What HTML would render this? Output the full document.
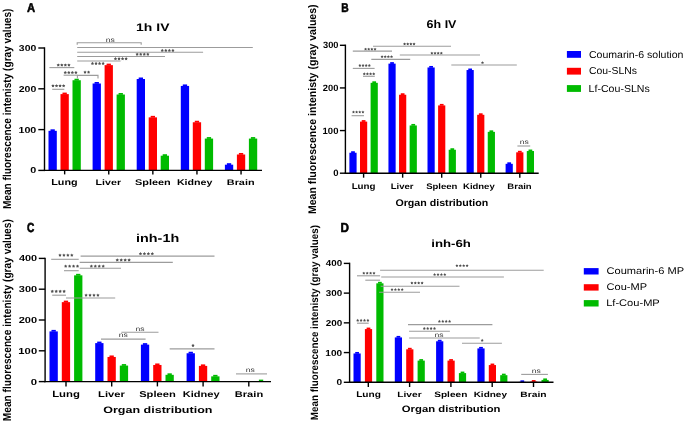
<!DOCTYPE html>
<html><head><meta charset="utf-8"><style>
html,body{margin:0;padding:0;background:#fff;}
body{width:685px;height:423px;overflow:hidden;}
svg{display:block;font-family:"Liberation Sans", sans-serif;filter:blur(0.35px);}
</style></head><body>
<svg width="685" height="423" viewBox="0 0 685 423">
<rect width="685" height="423" fill="#fff"/>
<rect x="48.50" y="130.82" width="8.30" height="39.58" fill="#0000ff"/>
<rect x="50.49" y="129.32" width="4.32" height="1.8" fill="#0000ff"/>
<rect x="60.50" y="94.10" width="8.30" height="76.30" fill="#ff0000"/>
<rect x="62.49" y="92.60" width="4.32" height="1.8" fill="#ff0000"/>
<rect x="72.50" y="80.23" width="8.30" height="90.17" fill="#00bb00"/>
<rect x="74.49" y="78.73" width="4.32" height="1.8" fill="#00bb00"/>
<rect x="92.60" y="83.50" width="8.30" height="86.90" fill="#0000ff"/>
<rect x="94.59" y="82.00" width="4.32" height="1.8" fill="#0000ff"/>
<rect x="104.60" y="65.14" width="8.30" height="105.26" fill="#ff0000"/>
<rect x="106.59" y="63.64" width="4.32" height="1.8" fill="#ff0000"/>
<rect x="116.60" y="94.51" width="8.30" height="75.89" fill="#00bb00"/>
<rect x="118.59" y="93.01" width="4.32" height="1.8" fill="#00bb00"/>
<rect x="136.70" y="79.01" width="8.30" height="91.39" fill="#0000ff"/>
<rect x="138.69" y="77.51" width="4.32" height="1.8" fill="#0000ff"/>
<rect x="148.70" y="117.36" width="8.30" height="53.04" fill="#ff0000"/>
<rect x="150.69" y="115.86" width="4.32" height="1.8" fill="#ff0000"/>
<rect x="160.70" y="155.71" width="8.30" height="14.69" fill="#00bb00"/>
<rect x="162.69" y="154.21" width="4.32" height="1.8" fill="#00bb00"/>
<rect x="180.80" y="85.94" width="8.30" height="84.46" fill="#0000ff"/>
<rect x="182.79" y="84.44" width="4.32" height="1.8" fill="#0000ff"/>
<rect x="192.80" y="122.26" width="8.30" height="48.14" fill="#ff0000"/>
<rect x="194.79" y="120.76" width="4.32" height="1.8" fill="#ff0000"/>
<rect x="204.80" y="138.58" width="8.30" height="31.82" fill="#00bb00"/>
<rect x="206.79" y="137.08" width="4.32" height="1.8" fill="#00bb00"/>
<rect x="224.90" y="164.69" width="8.30" height="5.71" fill="#0000ff"/>
<rect x="226.89" y="163.19" width="4.32" height="1.8" fill="#0000ff"/>
<rect x="236.90" y="154.49" width="8.30" height="15.91" fill="#ff0000"/>
<rect x="238.89" y="152.99" width="4.32" height="1.8" fill="#ff0000"/>
<rect x="248.90" y="138.58" width="8.30" height="31.82" fill="#00bb00"/>
<rect x="250.89" y="137.08" width="4.32" height="1.8" fill="#00bb00"/>
<line x1="44.50" y1="47.30" x2="44.50" y2="171.10" stroke="#000" stroke-width="1.4"/>
<line x1="43.80" y1="170.40" x2="262.00" y2="170.40" stroke="#000" stroke-width="1.4"/>
<line x1="38.30" y1="170.40" x2="44.50" y2="170.40" stroke="#000" stroke-width="1.4"/>
<line x1="38.30" y1="129.60" x2="44.50" y2="129.60" stroke="#000" stroke-width="1.4"/>
<line x1="38.30" y1="88.80" x2="44.50" y2="88.80" stroke="#000" stroke-width="1.4"/>
<line x1="38.30" y1="48.00" x2="44.50" y2="48.00" stroke="#000" stroke-width="1.4"/>
<line x1="64.65" y1="170.40" x2="64.65" y2="174.40" stroke="#000" stroke-width="1.4"/>
<line x1="108.75" y1="170.40" x2="108.75" y2="174.40" stroke="#000" stroke-width="1.4"/>
<line x1="152.85" y1="170.40" x2="152.85" y2="174.40" stroke="#000" stroke-width="1.4"/>
<line x1="196.95" y1="170.40" x2="196.95" y2="174.40" stroke="#000" stroke-width="1.4"/>
<line x1="241.05" y1="170.40" x2="241.05" y2="174.40" stroke="#000" stroke-width="1.4"/>
<polyline points="77.20,44.70 77.20,42.70 141.20,42.70 141.20,44.70" fill="none" stroke="#9c9c9c" stroke-width="1.1"/>
<line x1="77.20" y1="47.50" x2="252.80" y2="47.50" stroke="#9c9c9c" stroke-width="1.1"/>
<polygon points="162.28,48.80 162.85,49.71 163.89,49.97 163.20,50.80 163.27,51.88 162.28,51.47 161.28,51.88 161.35,50.80 160.66,49.97 161.70,49.71" fill="#505050"/>
<polygon points="165.82,48.80 166.40,49.71 167.44,49.97 166.75,50.80 166.82,51.88 165.82,51.47 164.83,51.88 164.90,50.80 164.21,49.97 165.25,49.71" fill="#505050"/>
<polygon points="169.38,48.80 169.95,49.71 170.99,49.97 170.30,50.80 170.37,51.88 169.38,51.47 168.38,51.88 168.45,50.80 167.76,49.97 168.80,49.71" fill="#505050"/>
<polygon points="172.92,48.80 173.50,49.71 174.54,49.97 173.85,50.80 173.92,51.88 172.92,51.47 171.93,51.88 172.00,50.80 171.31,49.97 172.35,49.71" fill="#505050"/>
<line x1="77.20" y1="52.20" x2="203.10" y2="52.20" stroke="#9c9c9c" stroke-width="1.1"/>
<polygon points="137.18,52.70 137.75,53.61 138.79,53.87 138.10,54.70 138.17,55.78 137.18,55.37 136.18,55.78 136.25,54.70 135.56,53.87 136.60,53.61" fill="#505050"/>
<polygon points="140.72,52.70 141.30,53.61 142.34,53.87 141.65,54.70 141.72,55.78 140.72,55.37 139.73,55.78 139.80,54.70 139.11,53.87 140.15,53.61" fill="#505050"/>
<polygon points="144.28,52.70 144.85,53.61 145.89,53.87 145.20,54.70 145.27,55.78 144.28,55.37 143.28,55.78 143.35,54.70 142.66,53.87 143.70,53.61" fill="#505050"/>
<polygon points="147.82,52.70 148.40,53.61 149.44,53.87 148.75,54.70 148.82,55.78 147.82,55.37 146.83,55.78 146.90,54.70 146.21,53.87 147.25,53.61" fill="#505050"/>
<line x1="77.20" y1="56.50" x2="165.00" y2="56.50" stroke="#9c9c9c" stroke-width="1.1"/>
<polygon points="115.47,57.10 116.05,58.01 117.09,58.27 116.40,59.10 116.47,60.18 115.47,59.77 114.48,60.18 114.55,59.10 113.86,58.27 114.90,58.01" fill="#505050"/>
<polygon points="119.02,57.10 119.60,58.01 120.64,58.27 119.95,59.10 120.02,60.18 119.02,59.77 118.03,60.18 118.10,59.10 117.41,58.27 118.45,58.01" fill="#505050"/>
<polygon points="122.58,57.10 123.15,58.01 124.19,58.27 123.50,59.10 123.57,60.18 122.58,59.77 121.58,60.18 121.65,59.10 120.96,58.27 122.00,58.01" fill="#505050"/>
<polygon points="126.12,57.10 126.70,58.01 127.74,58.27 127.05,59.10 127.12,60.18 126.12,59.77 125.13,60.18 125.20,59.10 124.51,58.27 125.55,58.01" fill="#505050"/>
<line x1="77.20" y1="61.00" x2="120.60" y2="61.00" stroke="#9c9c9c" stroke-width="1.1"/>
<polygon points="92.47,61.80 93.05,62.71 94.09,62.97 93.40,63.80 93.47,64.88 92.47,64.47 91.48,64.88 91.55,63.80 90.86,62.97 91.90,62.71" fill="#505050"/>
<polygon points="96.02,61.80 96.60,62.71 97.64,62.97 96.95,63.80 97.02,64.88 96.02,64.47 95.03,64.88 95.10,63.80 94.41,62.97 95.45,62.71" fill="#505050"/>
<polygon points="99.58,61.80 100.15,62.71 101.19,62.97 100.50,63.80 100.57,64.88 99.58,64.47 98.58,64.88 98.65,63.80 97.96,62.97 99.00,62.71" fill="#505050"/>
<polygon points="103.12,61.80 103.70,62.71 104.74,62.97 104.05,63.80 104.12,64.88 103.12,64.47 102.13,64.88 102.20,63.80 101.51,62.97 102.55,62.71" fill="#505050"/>
<line x1="49.40" y1="67.60" x2="74.30" y2="67.60" stroke="#9c9c9c" stroke-width="1.1"/>
<polygon points="58.28,63.40 58.85,64.31 59.89,64.57 59.20,65.40 59.27,66.48 58.28,66.07 57.28,66.48 57.35,65.40 56.66,64.57 57.70,64.31" fill="#505050"/>
<polygon points="61.83,63.40 62.40,64.31 63.44,64.57 62.75,65.40 62.82,66.48 61.83,66.07 60.83,66.48 60.90,65.40 60.21,64.57 61.25,64.31" fill="#505050"/>
<polygon points="65.38,63.40 65.95,64.31 66.99,64.57 66.30,65.40 66.37,66.48 65.38,66.07 64.38,66.48 64.45,65.40 63.76,64.57 64.80,64.31" fill="#505050"/>
<polygon points="68.92,63.40 69.50,64.31 70.54,64.57 69.85,65.40 69.92,66.48 68.92,66.07 67.93,66.48 68.00,65.40 67.31,64.57 68.35,64.31" fill="#505050"/>
<line x1="63.60" y1="75.20" x2="77.40" y2="75.20" stroke="#9c9c9c" stroke-width="1.1"/>
<polygon points="65.27,70.90 65.85,71.81 66.89,72.07 66.20,72.90 66.27,73.98 65.27,73.57 64.28,73.98 64.35,72.90 63.66,72.07 64.70,71.81" fill="#505050"/>
<polygon points="68.82,70.90 69.40,71.81 70.44,72.07 69.75,72.90 69.82,73.98 68.82,73.57 67.83,73.98 67.90,72.90 67.21,72.07 68.25,71.81" fill="#505050"/>
<polygon points="72.38,70.90 72.95,71.81 73.99,72.07 73.30,72.90 73.37,73.98 72.38,73.57 71.38,73.98 71.45,72.90 70.76,72.07 71.80,71.81" fill="#505050"/>
<polygon points="75.92,70.90 76.50,71.81 77.54,72.07 76.85,72.90 76.92,73.98 75.92,73.57 74.93,73.98 75.00,72.90 74.31,72.07 75.35,71.81" fill="#505050"/>
<polyline points="77.40,78.40 77.40,75.40 98.00,75.40 98.00,78.40" fill="none" stroke="#9c9c9c" stroke-width="1.1"/>
<polygon points="85.02,70.50 85.60,71.41 86.64,71.67 85.95,72.50 86.02,73.58 85.02,73.17 84.03,73.58 84.10,72.50 83.41,71.67 84.45,71.41" fill="#505050"/>
<polygon points="88.58,70.50 89.15,71.41 90.19,71.67 89.50,72.50 89.57,73.58 88.58,73.17 87.58,73.58 87.65,72.50 86.96,71.67 88.00,71.41" fill="#505050"/>
<line x1="52.20" y1="89.30" x2="64.30" y2="89.30" stroke="#9c9c9c" stroke-width="1.1"/>
<polygon points="52.97,84.20 53.55,85.11 54.59,85.37 53.90,86.20 53.97,87.28 52.97,86.87 51.98,87.28 52.05,86.20 51.36,85.37 52.40,85.11" fill="#505050"/>
<polygon points="56.52,84.20 57.10,85.11 58.14,85.37 57.45,86.20 57.52,87.28 56.52,86.87 55.53,87.28 55.60,86.20 54.91,85.37 55.95,85.11" fill="#505050"/>
<polygon points="60.07,84.20 60.65,85.11 61.69,85.37 61.00,86.20 61.07,87.28 60.07,86.87 59.08,87.28 59.15,86.20 58.46,85.37 59.50,85.11" fill="#505050"/>
<polygon points="63.62,84.20 64.20,85.11 65.24,85.37 64.55,86.20 64.62,87.28 63.62,86.87 62.63,87.28 62.70,86.20 62.01,85.37 63.05,85.11" fill="#505050"/>
<rect x="349.40" y="152.74" width="7.20" height="20.46" fill="#0000ff"/>
<rect x="351.13" y="151.24" width="3.74" height="1.8" fill="#0000ff"/>
<rect x="360.00" y="121.61" width="7.20" height="51.59" fill="#ff0000"/>
<rect x="361.73" y="120.11" width="3.74" height="1.8" fill="#ff0000"/>
<rect x="370.60" y="82.82" width="7.20" height="90.38" fill="#00bb00"/>
<rect x="372.33" y="81.32" width="3.74" height="1.8" fill="#00bb00"/>
<rect x="388.45" y="63.63" width="7.20" height="109.57" fill="#0000ff"/>
<rect x="390.18" y="62.13" width="3.74" height="1.8" fill="#0000ff"/>
<rect x="399.05" y="94.75" width="7.20" height="78.45" fill="#ff0000"/>
<rect x="400.78" y="93.25" width="3.74" height="1.8" fill="#ff0000"/>
<rect x="409.65" y="125.45" width="7.20" height="47.75" fill="#00bb00"/>
<rect x="411.38" y="123.95" width="3.74" height="1.8" fill="#00bb00"/>
<rect x="427.50" y="67.47" width="7.20" height="105.73" fill="#0000ff"/>
<rect x="429.23" y="65.97" width="3.74" height="1.8" fill="#0000ff"/>
<rect x="438.10" y="105.41" width="7.20" height="67.79" fill="#ff0000"/>
<rect x="439.83" y="103.91" width="3.74" height="1.8" fill="#ff0000"/>
<rect x="448.70" y="149.75" width="7.20" height="23.45" fill="#00bb00"/>
<rect x="450.43" y="148.25" width="3.74" height="1.8" fill="#00bb00"/>
<rect x="466.55" y="70.03" width="7.20" height="103.17" fill="#0000ff"/>
<rect x="468.28" y="68.53" width="3.74" height="1.8" fill="#0000ff"/>
<rect x="477.15" y="114.79" width="7.20" height="58.41" fill="#ff0000"/>
<rect x="478.88" y="113.29" width="3.74" height="1.8" fill="#ff0000"/>
<rect x="487.75" y="131.85" width="7.20" height="41.35" fill="#00bb00"/>
<rect x="489.48" y="130.35" width="3.74" height="1.8" fill="#00bb00"/>
<rect x="505.60" y="163.82" width="7.20" height="9.38" fill="#0000ff"/>
<rect x="507.33" y="162.32" width="3.74" height="1.8" fill="#0000ff"/>
<rect x="516.20" y="152.31" width="7.20" height="20.89" fill="#ff0000"/>
<rect x="517.93" y="150.81" width="3.74" height="1.8" fill="#ff0000"/>
<rect x="526.80" y="151.03" width="7.20" height="22.17" fill="#00bb00"/>
<rect x="528.53" y="149.53" width="3.74" height="1.8" fill="#00bb00"/>
<line x1="345.40" y1="44.60" x2="345.40" y2="173.90" stroke="#000" stroke-width="1.4"/>
<line x1="344.70" y1="173.20" x2="538.70" y2="173.20" stroke="#000" stroke-width="1.4"/>
<line x1="339.90" y1="173.20" x2="345.40" y2="173.20" stroke="#000" stroke-width="1.4"/>
<line x1="339.90" y1="130.57" x2="345.40" y2="130.57" stroke="#000" stroke-width="1.4"/>
<line x1="339.90" y1="87.93" x2="345.40" y2="87.93" stroke="#000" stroke-width="1.4"/>
<line x1="339.90" y1="45.30" x2="345.40" y2="45.30" stroke="#000" stroke-width="1.4"/>
<line x1="363.60" y1="173.20" x2="363.60" y2="177.70" stroke="#000" stroke-width="1.4"/>
<line x1="402.65" y1="173.20" x2="402.65" y2="177.70" stroke="#000" stroke-width="1.4"/>
<line x1="441.70" y1="173.20" x2="441.70" y2="177.70" stroke="#000" stroke-width="1.4"/>
<line x1="480.75" y1="173.20" x2="480.75" y2="177.70" stroke="#000" stroke-width="1.4"/>
<line x1="519.80" y1="173.20" x2="519.80" y2="177.70" stroke="#000" stroke-width="1.4"/>
<line x1="352.80" y1="51.10" x2="392.00" y2="51.10" stroke="#9c9c9c" stroke-width="1.1"/>
<polygon points="365.57,47.65 366.10,48.48 367.05,48.72 366.42,49.47 366.49,50.45 365.57,50.09 364.66,50.45 364.73,49.47 364.10,48.72 365.05,48.48" fill="#505050"/>
<polygon points="368.73,47.65 369.25,48.48 370.20,48.72 369.57,49.47 369.64,50.45 368.73,50.09 367.81,50.45 367.88,49.47 367.25,48.72 368.20,48.48" fill="#505050"/>
<polygon points="371.88,47.65 372.40,48.48 373.35,48.72 372.72,49.47 372.79,50.45 371.88,50.09 370.96,50.45 371.03,49.47 370.40,48.72 371.35,48.48" fill="#505050"/>
<polygon points="375.03,47.65 375.55,48.48 376.50,48.72 375.87,49.47 375.94,50.45 375.03,50.09 374.11,50.45 374.18,49.47 373.55,48.72 374.50,48.48" fill="#505050"/>
<line x1="373.00" y1="46.30" x2="451.00" y2="46.30" stroke="#9c9c9c" stroke-width="1.1"/>
<polygon points="404.57,42.45 405.10,43.28 406.05,43.52 405.42,44.27 405.49,45.25 404.57,44.89 403.66,45.25 403.73,44.27 403.10,43.52 404.05,43.28" fill="#505050"/>
<polygon points="407.73,42.45 408.25,43.28 409.20,43.52 408.57,44.27 408.64,45.25 407.73,44.89 406.81,45.25 406.88,44.27 406.25,43.52 407.20,43.28" fill="#505050"/>
<polygon points="410.88,42.45 411.40,43.28 412.35,43.52 411.72,44.27 411.79,45.25 410.88,44.89 409.96,45.25 410.03,44.27 409.40,43.52 410.35,43.28" fill="#505050"/>
<polygon points="414.03,42.45 414.55,43.28 415.50,43.52 414.87,44.27 414.94,45.25 414.03,44.89 413.11,45.25 413.18,44.27 412.55,43.52 413.50,43.28" fill="#505050"/>
<line x1="399.80" y1="55.00" x2="480.00" y2="55.00" stroke="#9c9c9c" stroke-width="1.1"/>
<polygon points="431.88,51.65 432.40,52.48 433.35,52.72 432.72,53.47 432.79,54.45 431.88,54.09 430.96,54.45 431.03,53.47 430.40,52.72 431.35,52.48" fill="#505050"/>
<polygon points="435.03,51.65 435.55,52.48 436.50,52.72 435.87,53.47 435.94,54.45 435.03,54.09 434.11,54.45 434.18,53.47 433.55,52.72 434.50,52.48" fill="#505050"/>
<polygon points="438.18,51.65 438.70,52.48 439.65,52.72 439.02,53.47 439.09,54.45 438.18,54.09 437.26,54.45 437.33,53.47 436.70,52.72 437.65,52.48" fill="#505050"/>
<polygon points="441.33,51.65 441.85,52.48 442.80,52.72 442.17,53.47 442.24,54.45 441.33,54.09 440.41,54.45 440.48,53.47 439.85,52.72 440.80,52.48" fill="#505050"/>
<line x1="371.30" y1="59.40" x2="410.20" y2="59.40" stroke="#9c9c9c" stroke-width="1.1"/>
<polygon points="382.07,55.15 382.60,55.98 383.55,56.22 382.92,56.97 382.99,57.95 382.07,57.59 381.16,57.95 381.23,56.97 380.60,56.22 381.55,55.98" fill="#505050"/>
<polygon points="385.23,55.15 385.75,55.98 386.70,56.22 386.07,56.97 386.14,57.95 385.23,57.59 384.31,57.95 384.38,56.97 383.75,56.22 384.70,55.98" fill="#505050"/>
<polygon points="388.38,55.15 388.90,55.98 389.85,56.22 389.22,56.97 389.29,57.95 388.38,57.59 387.46,57.95 387.53,56.97 386.90,56.22 387.85,55.98" fill="#505050"/>
<polygon points="391.53,55.15 392.05,55.98 393.00,56.22 392.37,56.97 392.44,57.95 391.53,57.59 390.61,57.95 390.68,56.97 390.05,56.22 391.00,55.98" fill="#505050"/>
<line x1="451.30" y1="65.00" x2="516.80" y2="65.00" stroke="#9c9c9c" stroke-width="1.1"/>
<polygon points="482.50,61.15 483.02,61.98 483.97,62.22 483.34,62.97 483.41,63.95 482.50,63.59 481.59,63.95 481.66,62.97 481.03,62.22 481.98,61.98" fill="#505050"/>
<line x1="352.80" y1="68.40" x2="374.60" y2="68.40" stroke="#9c9c9c" stroke-width="1.1"/>
<polygon points="359.88,63.95 360.40,64.78 361.35,65.02 360.72,65.77 360.79,66.75 359.88,66.39 358.96,66.75 359.03,65.77 358.40,65.02 359.35,64.78" fill="#505050"/>
<polygon points="363.03,63.95 363.55,64.78 364.50,65.02 363.87,65.77 363.94,66.75 363.03,66.39 362.11,66.75 362.18,65.77 361.55,65.02 362.50,64.78" fill="#505050"/>
<polygon points="366.18,63.95 366.70,64.78 367.65,65.02 367.02,65.77 367.09,66.75 366.18,66.39 365.26,66.75 365.33,65.77 364.70,65.02 365.65,64.78" fill="#505050"/>
<polygon points="369.33,63.95 369.85,64.78 370.80,65.02 370.17,65.77 370.24,66.75 369.33,66.39 368.41,66.75 368.48,65.77 367.85,65.02 368.80,64.78" fill="#505050"/>
<line x1="363.00" y1="76.30" x2="374.80" y2="76.30" stroke="#9c9c9c" stroke-width="1.1"/>
<polygon points="364.27,72.35 364.80,73.18 365.75,73.42 365.12,74.17 365.19,75.15 364.27,74.79 363.36,75.15 363.43,74.17 362.80,73.42 363.75,73.18" fill="#505050"/>
<polygon points="367.43,72.35 367.95,73.18 368.90,73.42 368.27,74.17 368.34,75.15 367.43,74.79 366.51,75.15 366.58,74.17 365.95,73.42 366.90,73.18" fill="#505050"/>
<polygon points="370.57,72.35 371.10,73.18 372.05,73.42 371.42,74.17 371.49,75.15 370.57,74.79 369.66,75.15 369.73,74.17 369.10,73.42 370.05,73.18" fill="#505050"/>
<polygon points="373.73,72.35 374.25,73.18 375.20,73.42 374.57,74.17 374.64,75.15 373.73,74.79 372.81,75.15 372.88,74.17 372.25,73.42 373.20,73.18" fill="#505050"/>
<line x1="351.60" y1="115.70" x2="364.00" y2="115.70" stroke="#9c9c9c" stroke-width="1.1"/>
<polygon points="353.47,110.55 354.00,111.38 354.95,111.62 354.32,112.37 354.39,113.35 353.47,112.99 352.56,113.35 352.63,112.37 352.00,111.62 352.95,111.38" fill="#505050"/>
<polygon points="356.62,110.55 357.15,111.38 358.10,111.62 357.47,112.37 357.54,113.35 356.62,112.99 355.71,113.35 355.78,112.37 355.15,111.62 356.10,111.38" fill="#505050"/>
<polygon points="359.77,110.55 360.30,111.38 361.25,111.62 360.62,112.37 360.69,113.35 359.77,112.99 358.86,113.35 358.93,112.37 358.30,111.62 359.25,111.38" fill="#505050"/>
<polygon points="362.93,110.55 363.45,111.38 364.40,111.62 363.77,112.37 363.84,113.35 362.93,112.99 362.01,113.35 362.08,112.37 361.45,111.62 362.40,111.38" fill="#505050"/>
<line x1="517.40" y1="146.00" x2="530.20" y2="146.00" stroke="#9c9c9c" stroke-width="1.1"/>
<rect x="49.50" y="331.40" width="8.30" height="50.20" fill="#0000ff"/>
<rect x="51.49" y="329.90" width="4.32" height="1.8" fill="#0000ff"/>
<rect x="61.80" y="302.14" width="8.30" height="79.46" fill="#ff0000"/>
<rect x="63.79" y="300.64" width="4.32" height="1.8" fill="#ff0000"/>
<rect x="74.10" y="275.34" width="8.30" height="106.26" fill="#00bb00"/>
<rect x="76.09" y="273.84" width="4.32" height="1.8" fill="#00bb00"/>
<rect x="95.20" y="343.10" width="8.30" height="38.50" fill="#0000ff"/>
<rect x="97.19" y="341.60" width="4.32" height="1.8" fill="#0000ff"/>
<rect x="107.50" y="356.96" width="8.30" height="24.64" fill="#ff0000"/>
<rect x="109.49" y="355.46" width="4.32" height="1.8" fill="#ff0000"/>
<rect x="119.80" y="365.58" width="8.30" height="16.02" fill="#00bb00"/>
<rect x="121.79" y="364.08" width="4.32" height="1.8" fill="#00bb00"/>
<rect x="140.90" y="344.64" width="8.30" height="36.96" fill="#0000ff"/>
<rect x="142.89" y="343.14" width="4.32" height="1.8" fill="#0000ff"/>
<rect x="153.20" y="364.97" width="8.30" height="16.63" fill="#ff0000"/>
<rect x="155.19" y="363.47" width="4.32" height="1.8" fill="#ff0000"/>
<rect x="165.50" y="374.82" width="8.30" height="6.78" fill="#00bb00"/>
<rect x="167.49" y="373.32" width="4.32" height="1.8" fill="#00bb00"/>
<rect x="186.60" y="353.26" width="8.30" height="28.34" fill="#0000ff"/>
<rect x="188.59" y="351.76" width="4.32" height="1.8" fill="#0000ff"/>
<rect x="198.90" y="365.89" width="8.30" height="15.71" fill="#ff0000"/>
<rect x="200.89" y="364.39" width="4.32" height="1.8" fill="#ff0000"/>
<rect x="211.20" y="376.36" width="8.30" height="5.24" fill="#00bb00"/>
<rect x="213.19" y="374.86" width="4.32" height="1.8" fill="#00bb00"/>
<rect x="256.90" y="381.14" width="8.30" height="0.46" fill="#00bb00"/>
<rect x="258.89" y="379.64" width="4.32" height="1.8" fill="#00bb00"/>
<line x1="45.10" y1="257.70" x2="45.10" y2="382.30" stroke="#000" stroke-width="1.4"/>
<line x1="44.40" y1="381.60" x2="271.00" y2="381.60" stroke="#000" stroke-width="1.4"/>
<line x1="38.80" y1="381.60" x2="45.10" y2="381.60" stroke="#000" stroke-width="1.4"/>
<line x1="38.80" y1="350.80" x2="45.10" y2="350.80" stroke="#000" stroke-width="1.4"/>
<line x1="38.80" y1="320.00" x2="45.10" y2="320.00" stroke="#000" stroke-width="1.4"/>
<line x1="38.80" y1="289.20" x2="45.10" y2="289.20" stroke="#000" stroke-width="1.4"/>
<line x1="38.80" y1="258.40" x2="45.10" y2="258.40" stroke="#000" stroke-width="1.4"/>
<line x1="66.00" y1="381.60" x2="66.00" y2="386.40" stroke="#000" stroke-width="1.4"/>
<line x1="111.70" y1="381.60" x2="111.70" y2="386.40" stroke="#000" stroke-width="1.4"/>
<line x1="157.40" y1="381.60" x2="157.40" y2="386.40" stroke="#000" stroke-width="1.4"/>
<line x1="203.10" y1="381.60" x2="203.10" y2="386.40" stroke="#000" stroke-width="1.4"/>
<line x1="248.80" y1="381.60" x2="248.80" y2="386.40" stroke="#000" stroke-width="1.4"/>
<line x1="80.60" y1="256.10" x2="214.50" y2="256.10" stroke="#9c9c9c" stroke-width="1.1"/>
<polygon points="140.47,251.95 141.06,252.89 142.14,253.16 141.43,254.01 141.50,255.12 140.47,254.70 139.45,255.12 139.52,254.01 138.81,253.16 139.89,252.89" fill="#505050"/>
<polygon points="144.43,251.95 145.01,252.89 146.09,253.16 145.38,254.01 145.45,255.12 144.43,254.70 143.40,255.12 143.47,254.01 142.76,253.16 143.84,252.89" fill="#505050"/>
<polygon points="148.38,251.95 148.96,252.89 150.04,253.16 149.33,254.01 149.40,255.12 148.38,254.70 147.35,255.12 147.42,254.01 146.71,253.16 147.79,252.89" fill="#505050"/>
<polygon points="152.33,251.95 152.91,252.89 153.99,253.16 153.28,254.01 153.35,255.12 152.33,254.70 151.30,255.12 151.37,254.01 150.66,253.16 151.74,252.89" fill="#505050"/>
<line x1="51.20" y1="259.30" x2="78.70" y2="259.30" stroke="#9c9c9c" stroke-width="1.1"/>
<polygon points="59.98,253.45 60.56,254.39 61.64,254.66 60.93,255.51 61.00,256.62 59.98,256.20 58.95,256.62 59.02,255.51 58.31,254.66 59.39,254.39" fill="#505050"/>
<polygon points="63.93,253.45 64.51,254.39 65.59,254.66 64.88,255.51 64.95,256.62 63.93,256.20 62.90,256.62 62.97,255.51 62.26,254.66 63.34,254.39" fill="#505050"/>
<polygon points="67.88,253.45 68.46,254.39 69.54,254.66 68.83,255.51 68.90,256.62 67.88,256.20 66.85,256.62 66.92,255.51 66.21,254.66 67.29,254.39" fill="#505050"/>
<polygon points="71.83,253.45 72.41,254.39 73.49,254.66 72.78,255.51 72.85,256.62 71.83,256.20 70.80,256.62 70.87,255.51 70.16,254.66 71.24,254.39" fill="#505050"/>
<line x1="79.70" y1="262.40" x2="172.80" y2="262.40" stroke="#9c9c9c" stroke-width="1.1"/>
<polygon points="117.28,258.35 117.86,259.29 118.94,259.56 118.23,260.41 118.30,261.52 117.28,261.10 116.25,261.52 116.32,260.41 115.61,259.56 116.69,259.29" fill="#505050"/>
<polygon points="121.23,258.35 121.81,259.29 122.89,259.56 122.18,260.41 122.25,261.52 121.23,261.10 120.20,261.52 120.27,260.41 119.56,259.56 120.64,259.29" fill="#505050"/>
<polygon points="125.17,258.35 125.76,259.29 126.84,259.56 126.13,260.41 126.20,261.52 125.17,261.10 124.15,261.52 124.22,260.41 123.51,259.56 124.59,259.29" fill="#505050"/>
<polygon points="129.12,258.35 129.71,259.29 130.79,259.56 130.08,260.41 130.15,261.52 129.12,261.10 128.10,261.52 128.17,260.41 127.46,259.56 128.54,259.29" fill="#505050"/>
<line x1="79.70" y1="268.20" x2="121.00" y2="268.20" stroke="#9c9c9c" stroke-width="1.1"/>
<polygon points="91.38,264.45 91.96,265.39 93.04,265.66 92.33,266.51 92.40,267.62 91.38,267.20 90.35,267.62 90.42,266.51 89.71,265.66 90.79,265.39" fill="#505050"/>
<polygon points="95.33,264.45 95.91,265.39 96.99,265.66 96.28,266.51 96.35,267.62 95.33,267.20 94.30,267.62 94.37,266.51 93.66,265.66 94.74,265.39" fill="#505050"/>
<polygon points="99.27,264.45 99.86,265.39 100.94,265.66 100.23,266.51 100.30,267.62 99.27,267.20 98.25,267.62 98.32,266.51 97.61,265.66 98.69,265.39" fill="#505050"/>
<polygon points="103.22,264.45 103.81,265.39 104.89,265.66 104.18,266.51 104.25,267.62 103.22,267.20 102.20,267.62 102.27,266.51 101.56,265.66 102.64,265.39" fill="#505050"/>
<line x1="64.00" y1="270.70" x2="78.70" y2="270.70" stroke="#9c9c9c" stroke-width="1.1"/>
<polygon points="65.67,264.45 66.26,265.39 67.34,265.66 66.63,266.51 66.70,267.62 65.67,267.20 64.65,267.62 64.72,266.51 64.01,265.66 65.09,265.39" fill="#505050"/>
<polygon points="69.62,264.45 70.21,265.39 71.29,265.66 70.58,266.51 70.65,267.62 69.62,267.20 68.60,267.62 68.67,266.51 67.96,265.66 69.04,265.39" fill="#505050"/>
<polygon points="73.57,264.45 74.16,265.39 75.24,265.66 74.53,266.51 74.60,267.62 73.57,267.20 72.55,267.62 72.62,266.51 71.91,265.66 72.99,265.39" fill="#505050"/>
<polygon points="77.52,264.45 78.11,265.39 79.19,265.66 78.48,266.51 78.55,267.62 77.52,267.20 76.50,267.62 76.57,266.51 75.86,265.66 76.94,265.39" fill="#505050"/>
<line x1="52.20" y1="295.20" x2="66.00" y2="295.20" stroke="#9c9c9c" stroke-width="1.1"/>
<polygon points="52.28,289.65 52.86,290.59 53.94,290.86 53.23,291.71 53.30,292.82 52.28,292.40 51.25,292.82 51.32,291.71 50.61,290.86 51.69,290.59" fill="#505050"/>
<polygon points="56.23,289.65 56.81,290.59 57.89,290.86 57.18,291.71 57.25,292.82 56.23,292.40 55.20,292.82 55.27,291.71 54.56,290.86 55.64,290.59" fill="#505050"/>
<polygon points="60.18,289.65 60.76,290.59 61.84,290.86 61.13,291.71 61.20,292.82 60.18,292.40 59.15,292.82 59.22,291.71 58.51,290.86 59.59,290.59" fill="#505050"/>
<polygon points="64.12,289.65 64.71,290.59 65.79,290.86 65.08,291.71 65.15,292.82 64.12,292.40 63.10,292.82 63.17,291.71 62.46,290.86 63.54,290.59" fill="#505050"/>
<line x1="66.00" y1="298.00" x2="115.20" y2="298.00" stroke="#9c9c9c" stroke-width="1.1"/>
<polygon points="86.08,293.45 86.66,294.39 87.74,294.66 87.03,295.51 87.10,296.62 86.08,296.20 85.05,296.62 85.12,295.51 84.41,294.66 85.49,294.39" fill="#505050"/>
<polygon points="90.03,293.45 90.61,294.39 91.69,294.66 90.98,295.51 91.05,296.62 90.03,296.20 89.00,296.62 89.07,295.51 88.36,294.66 89.44,294.39" fill="#505050"/>
<polygon points="93.97,293.45 94.56,294.39 95.64,294.66 94.93,295.51 95.00,296.62 93.97,296.20 92.95,296.62 93.02,295.51 92.31,294.66 93.39,294.39" fill="#505050"/>
<polygon points="97.92,293.45 98.51,294.39 99.59,294.66 98.88,295.51 98.95,296.62 97.92,296.20 96.90,296.62 96.97,295.51 96.26,294.66 97.34,294.39" fill="#505050"/>
<line x1="121.40" y1="332.20" x2="158.50" y2="332.20" stroke="#9c9c9c" stroke-width="1.1"/>
<line x1="101.00" y1="339.10" x2="145.60" y2="339.10" stroke="#9c9c9c" stroke-width="1.1"/>
<line x1="169.70" y1="348.90" x2="214.50" y2="348.90" stroke="#9c9c9c" stroke-width="1.1"/>
<polygon points="193.00,343.75 193.59,344.69 194.66,344.96 193.95,345.81 194.03,346.92 193.00,346.50 191.97,346.92 192.05,345.81 191.34,344.96 192.41,344.69" fill="#505050"/>
<line x1="236.00" y1="373.90" x2="267.00" y2="373.90" stroke="#9c9c9c" stroke-width="1.1"/>
<rect x="353.50" y="353.47" width="7.20" height="28.83" fill="#0000ff"/>
<rect x="355.23" y="351.97" width="3.74" height="1.8" fill="#0000ff"/>
<rect x="364.90" y="329.09" width="7.20" height="53.21" fill="#ff0000"/>
<rect x="366.63" y="327.59" width="3.74" height="1.8" fill="#ff0000"/>
<rect x="376.30" y="283.32" width="7.20" height="98.98" fill="#00bb00"/>
<rect x="378.03" y="281.82" width="3.74" height="1.8" fill="#00bb00"/>
<rect x="394.80" y="337.42" width="7.20" height="44.88" fill="#0000ff"/>
<rect x="396.53" y="335.92" width="3.74" height="1.8" fill="#0000ff"/>
<rect x="406.20" y="349.31" width="7.20" height="32.99" fill="#ff0000"/>
<rect x="407.93" y="347.81" width="3.74" height="1.8" fill="#ff0000"/>
<rect x="417.60" y="360.60" width="7.20" height="21.70" fill="#00bb00"/>
<rect x="419.33" y="359.10" width="3.74" height="1.8" fill="#00bb00"/>
<rect x="436.10" y="341.28" width="7.20" height="41.02" fill="#0000ff"/>
<rect x="437.83" y="339.78" width="3.74" height="1.8" fill="#0000ff"/>
<rect x="447.50" y="360.60" width="7.20" height="21.70" fill="#ff0000"/>
<rect x="449.23" y="359.10" width="3.74" height="1.8" fill="#ff0000"/>
<rect x="458.90" y="373.09" width="7.20" height="9.21" fill="#00bb00"/>
<rect x="460.63" y="371.59" width="3.74" height="1.8" fill="#00bb00"/>
<rect x="477.40" y="348.41" width="7.20" height="33.89" fill="#0000ff"/>
<rect x="479.13" y="346.91" width="3.74" height="1.8" fill="#0000ff"/>
<rect x="488.80" y="365.06" width="7.20" height="17.24" fill="#ff0000"/>
<rect x="490.53" y="363.56" width="3.74" height="1.8" fill="#ff0000"/>
<rect x="500.20" y="375.17" width="7.20" height="7.13" fill="#00bb00"/>
<rect x="501.93" y="373.67" width="3.74" height="1.8" fill="#00bb00"/>
<rect x="518.70" y="381.85" width="7.20" height="0.45" fill="#0000ff"/>
<rect x="520.43" y="380.35" width="3.74" height="1.8" fill="#0000ff"/>
<rect x="530.10" y="381.56" width="7.20" height="0.74" fill="#ff0000"/>
<rect x="531.83" y="380.06" width="3.74" height="1.8" fill="#ff0000"/>
<rect x="541.50" y="379.92" width="7.20" height="2.38" fill="#00bb00"/>
<rect x="543.23" y="378.42" width="3.74" height="1.8" fill="#00bb00"/>
<line x1="349.60" y1="262.70" x2="349.60" y2="383.00" stroke="#000" stroke-width="1.4"/>
<line x1="348.90" y1="382.30" x2="553.50" y2="382.30" stroke="#000" stroke-width="1.4"/>
<line x1="343.80" y1="382.30" x2="349.60" y2="382.30" stroke="#000" stroke-width="1.4"/>
<line x1="343.80" y1="352.57" x2="349.60" y2="352.57" stroke="#000" stroke-width="1.4"/>
<line x1="343.80" y1="322.85" x2="349.60" y2="322.85" stroke="#000" stroke-width="1.4"/>
<line x1="343.80" y1="293.12" x2="349.60" y2="293.12" stroke="#000" stroke-width="1.4"/>
<line x1="343.80" y1="263.40" x2="349.60" y2="263.40" stroke="#000" stroke-width="1.4"/>
<line x1="368.30" y1="382.30" x2="368.30" y2="387.00" stroke="#000" stroke-width="1.4"/>
<line x1="409.60" y1="382.30" x2="409.60" y2="387.00" stroke="#000" stroke-width="1.4"/>
<line x1="450.90" y1="382.30" x2="450.90" y2="387.00" stroke="#000" stroke-width="1.4"/>
<line x1="492.20" y1="382.30" x2="492.20" y2="387.00" stroke="#000" stroke-width="1.4"/>
<line x1="533.50" y1="382.30" x2="533.50" y2="387.00" stroke="#000" stroke-width="1.4"/>
<line x1="380.10" y1="270.20" x2="543.70" y2="270.20" stroke="#9c9c9c" stroke-width="1.1"/>
<polygon points="456.90,264.15 457.42,264.98 458.37,265.22 457.74,265.97 457.81,266.95 456.90,266.59 455.99,266.95 456.06,265.97 455.43,265.22 456.38,264.98" fill="#505050"/>
<polygon points="460.30,264.15 460.82,264.98 461.77,265.22 461.14,265.97 461.21,266.95 460.30,266.59 459.39,266.95 459.46,265.97 458.83,265.22 459.78,264.98" fill="#505050"/>
<polygon points="463.70,264.15 464.22,264.98 465.17,265.22 464.54,265.97 464.61,266.95 463.70,266.59 462.79,266.95 462.86,265.97 462.23,265.22 463.18,264.98" fill="#505050"/>
<polygon points="467.10,264.15 467.62,264.98 468.57,265.22 467.94,265.97 468.01,266.95 467.10,266.59 466.19,266.95 466.26,265.97 465.63,265.22 466.58,264.98" fill="#505050"/>
<line x1="357.00" y1="275.80" x2="380.10" y2="275.80" stroke="#9c9c9c" stroke-width="1.1"/>
<polygon points="363.80,271.65 364.32,272.48 365.27,272.72 364.64,273.47 364.71,274.45 363.80,274.09 362.89,274.45 362.96,273.47 362.33,272.72 363.28,272.48" fill="#505050"/>
<polygon points="367.20,271.65 367.72,272.48 368.67,272.72 368.04,273.47 368.11,274.45 367.20,274.09 366.29,274.45 366.36,273.47 365.73,272.72 366.68,272.48" fill="#505050"/>
<polygon points="370.60,271.65 371.12,272.48 372.07,272.72 371.44,273.47 371.51,274.45 370.60,274.09 369.69,274.45 369.76,273.47 369.13,272.72 370.08,272.48" fill="#505050"/>
<polygon points="374.00,271.65 374.52,272.48 375.47,272.72 374.84,273.47 374.91,274.45 374.00,274.09 373.09,274.45 373.16,273.47 372.53,272.72 373.48,272.48" fill="#505050"/>
<line x1="381.20" y1="277.00" x2="503.90" y2="277.00" stroke="#9c9c9c" stroke-width="1.1"/>
<polygon points="434.60,273.05 435.12,273.88 436.07,274.12 435.44,274.87 435.51,275.85 434.60,275.49 433.69,275.85 433.76,274.87 433.13,274.12 434.08,273.88" fill="#505050"/>
<polygon points="438.00,273.05 438.52,273.88 439.47,274.12 438.84,274.87 438.91,275.85 438.00,275.49 437.09,275.85 437.16,274.87 436.53,274.12 437.48,273.88" fill="#505050"/>
<polygon points="441.40,273.05 441.92,273.88 442.87,274.12 442.24,274.87 442.31,275.85 441.40,275.49 440.49,275.85 440.56,274.87 439.93,274.12 440.88,273.88" fill="#505050"/>
<polygon points="444.80,273.05 445.32,273.88 446.27,274.12 445.64,274.87 445.71,275.85 444.80,275.49 443.89,275.85 443.96,274.87 443.33,274.12 444.28,273.88" fill="#505050"/>
<line x1="365.30" y1="280.20" x2="380.10" y2="280.20" stroke="#9c9c9c" stroke-width="1.1"/>
<line x1="380.70" y1="286.20" x2="459.50" y2="286.20" stroke="#9c9c9c" stroke-width="1.1"/>
<polygon points="411.90,281.45 412.42,282.28 413.37,282.52 412.74,283.27 412.81,284.25 411.90,283.89 410.99,284.25 411.06,283.27 410.43,282.52 411.38,282.28" fill="#505050"/>
<polygon points="415.30,281.45 415.82,282.28 416.77,282.52 416.14,283.27 416.21,284.25 415.30,283.89 414.39,284.25 414.46,283.27 413.83,282.52 414.78,282.28" fill="#505050"/>
<polygon points="418.70,281.45 419.22,282.28 420.17,282.52 419.54,283.27 419.61,284.25 418.70,283.89 417.79,284.25 417.86,283.27 417.23,282.52 418.18,282.28" fill="#505050"/>
<polygon points="422.10,281.45 422.62,282.28 423.57,282.52 422.94,283.27 423.01,284.25 422.10,283.89 421.19,284.25 421.26,283.27 420.63,282.52 421.58,282.28" fill="#505050"/>
<line x1="379.10" y1="292.30" x2="420.00" y2="292.30" stroke="#9c9c9c" stroke-width="1.1"/>
<polygon points="392.00,288.05 392.52,288.88 393.47,289.12 392.84,289.87 392.91,290.85 392.00,290.49 391.09,290.85 391.16,289.87 390.53,289.12 391.48,288.88" fill="#505050"/>
<polygon points="395.40,288.05 395.92,288.88 396.87,289.12 396.24,289.87 396.31,290.85 395.40,290.49 394.49,290.85 394.56,289.87 393.93,289.12 394.88,288.88" fill="#505050"/>
<polygon points="398.80,288.05 399.32,288.88 400.27,289.12 399.64,289.87 399.71,290.85 398.80,290.49 397.89,290.85 397.96,289.87 397.33,289.12 398.28,288.88" fill="#505050"/>
<polygon points="402.20,288.05 402.72,288.88 403.67,289.12 403.04,289.87 403.11,290.85 402.20,290.49 401.29,290.85 401.36,289.87 400.73,289.12 401.68,288.88" fill="#505050"/>
<line x1="357.00" y1="323.20" x2="368.70" y2="323.20" stroke="#9c9c9c" stroke-width="1.1"/>
<polygon points="357.70,318.85 358.22,319.68 359.17,319.92 358.54,320.67 358.61,321.65 357.70,321.29 356.79,321.65 356.86,320.67 356.23,319.92 357.18,319.68" fill="#505050"/>
<polygon points="361.10,318.85 361.62,319.68 362.57,319.92 361.94,320.67 362.01,321.65 361.10,321.29 360.19,321.65 360.26,320.67 359.63,319.92 360.58,319.68" fill="#505050"/>
<polygon points="364.50,318.85 365.02,319.68 365.97,319.92 365.34,320.67 365.41,321.65 364.50,321.29 363.59,321.65 363.66,320.67 363.03,319.92 363.98,319.68" fill="#505050"/>
<polygon points="367.90,318.85 368.42,319.68 369.37,319.92 368.74,320.67 368.81,321.65 367.90,321.29 366.99,321.65 367.06,320.67 366.43,319.92 367.38,319.68" fill="#505050"/>
<line x1="408.00" y1="324.60" x2="492.40" y2="324.60" stroke="#9c9c9c" stroke-width="1.1"/>
<polygon points="439.40,319.85 439.92,320.68 440.87,320.92 440.24,321.67 440.31,322.65 439.40,322.29 438.49,322.65 438.56,321.67 437.93,320.92 438.88,320.68" fill="#505050"/>
<polygon points="442.80,319.85 443.32,320.68 444.27,320.92 443.64,321.67 443.71,322.65 442.80,322.29 441.89,322.65 441.96,321.67 441.33,320.92 442.28,320.68" fill="#505050"/>
<polygon points="446.20,319.85 446.72,320.68 447.67,320.92 447.04,321.67 447.11,322.65 446.20,322.29 445.29,322.65 445.36,321.67 444.73,320.92 445.68,320.68" fill="#505050"/>
<polygon points="449.60,319.85 450.12,320.68 451.07,320.92 450.44,321.67 450.51,322.65 449.60,322.29 448.69,322.65 448.76,321.67 448.13,320.92 449.08,320.68" fill="#505050"/>
<line x1="409.10" y1="331.30" x2="449.90" y2="331.30" stroke="#9c9c9c" stroke-width="1.1"/>
<polygon points="424.30,326.95 424.82,327.78 425.77,328.02 425.14,328.77 425.21,329.75 424.30,329.39 423.39,329.75 423.46,328.77 422.83,328.02 423.78,327.78" fill="#505050"/>
<polygon points="427.70,326.95 428.22,327.78 429.17,328.02 428.54,328.77 428.61,329.75 427.70,329.39 426.79,329.75 426.86,328.77 426.23,328.02 427.18,327.78" fill="#505050"/>
<polygon points="431.10,326.95 431.62,327.78 432.57,328.02 431.94,328.77 432.01,329.75 431.10,329.39 430.19,329.75 430.26,328.77 429.63,328.02 430.58,327.78" fill="#505050"/>
<polygon points="434.50,326.95 435.02,327.78 435.97,328.02 435.34,328.77 435.41,329.75 434.50,329.39 433.59,329.75 433.66,328.77 433.03,328.02 433.98,327.78" fill="#505050"/>
<line x1="409.10" y1="338.00" x2="479.70" y2="338.00" stroke="#9c9c9c" stroke-width="1.1"/>
<line x1="462.00" y1="343.30" x2="501.90" y2="343.30" stroke="#9c9c9c" stroke-width="1.1"/>
<polygon points="482.20,338.85 482.72,339.68 483.67,339.92 483.04,340.67 483.11,341.65 482.20,341.29 481.29,341.65 481.36,340.67 480.73,339.92 481.68,339.68" fill="#505050"/>
<line x1="521.20" y1="374.40" x2="547.90" y2="374.40" stroke="#9c9c9c" stroke-width="1.1"/>
<rect x="566.90" y="51.00" width="14.10" height="6.80" fill="#0000ff"/>
<rect x="566.90" y="67.80" width="14.10" height="6.80" fill="#ff0000"/>
<rect x="566.90" y="85.10" width="14.10" height="6.80" fill="#00bb00"/>
<rect x="583.80" y="268.10" width="14.80" height="6.40" fill="#0000ff"/>
<rect x="583.80" y="284.20" width="14.80" height="6.40" fill="#ff0000"/>
<rect x="583.80" y="300.10" width="14.80" height="6.40" fill="#00bb00"/>
<g opacity="0.999">
<text transform="translate(30.33,173.36) scale(0.5408,0.4296) skewX(0.05)" font-size="20.0" font-weight="bold" fill="#000">0</text>
<text transform="translate(18.41,132.56) scale(0.5374,0.4296) skewX(0.05)" font-size="20.0" font-weight="bold" fill="#000">100</text>
<text transform="translate(18.73,91.76) scale(0.5274,0.4296) skewX(0.05)" font-size="20.0" font-weight="bold" fill="#000">200</text>
<text transform="translate(18.84,50.96) scale(0.5241,0.4296) skewX(0.05)" font-size="20.0" font-weight="bold" fill="#000">300</text>
<text transform="translate(51.20,185.45) scale(0.5404,0.4348) skewX(0.05)" font-size="20.0" font-weight="bold" fill="#000">Lung</text>
<text transform="translate(95.61,185.37) scale(0.5321,0.4054) skewX(0.05)" font-size="20.0" font-weight="bold" fill="#000">Liver</text>
<text transform="translate(134.93,185.45) scale(0.5472,0.4110) skewX(0.05)" font-size="20.0" font-weight="bold" fill="#000">Spleen</text>
<text transform="translate(176.91,185.45) scale(0.5339,0.4110) skewX(0.05)" font-size="20.0" font-weight="bold" fill="#000">Kidney</text>
<text transform="translate(226.80,185.37) scale(0.5441,0.4054) skewX(0.05)" font-size="20.0" font-weight="bold" fill="#000">Brain</text>
<text transform="translate(105.63,42.29) scale(0.4295,0.3182) skewX(0.05)" font-size="20.0" font-weight="normal" fill="#333">ns</text>
<text transform="translate(333.20,176.36) scale(0.4762,0.4577) skewX(0.05)" font-size="20.0" font-weight="bold" fill="#000">0</text>
<text transform="translate(322.58,133.73) scale(0.4770,0.4577) skewX(0.05)" font-size="20.0" font-weight="bold" fill="#000">100</text>
<text transform="translate(322.87,91.09) scale(0.4681,0.4577) skewX(0.05)" font-size="20.0" font-weight="bold" fill="#000">200</text>
<text transform="translate(322.96,48.46) scale(0.4652,0.4577) skewX(0.05)" font-size="20.0" font-weight="bold" fill="#000">300</text>
<text transform="translate(351.66,189.25) scale(0.4887,0.4275) skewX(0.05)" font-size="20.0" font-weight="bold" fill="#000">Lung</text>
<text transform="translate(390.68,189.17) scale(0.4761,0.3986) skewX(0.05)" font-size="20.0" font-weight="bold" fill="#000">Liver</text>
<text transform="translate(426.16,189.25) scale(0.4769,0.4041) skewX(0.05)" font-size="20.0" font-weight="bold" fill="#000">Spleen</text>
<text transform="translate(463.08,189.25) scale(0.4744,0.4041) skewX(0.05)" font-size="20.0" font-weight="bold" fill="#000">Kidney</text>
<text transform="translate(507.28,189.17) scale(0.4784,0.3986) skewX(0.05)" font-size="20.0" font-weight="bold" fill="#000">Brain</text>
<text transform="translate(519.63,143.69) scale(0.4295,0.3182) skewX(0.05)" font-size="20.0" font-weight="normal" fill="#333">ns</text>
<text transform="translate(30.84,384.61) scale(0.5680,0.4366) skewX(0.05)" font-size="20.0" font-weight="bold" fill="#000">0</text>
<text transform="translate(18.37,353.81) scale(0.5629,0.4366) skewX(0.05)" font-size="20.0" font-weight="bold" fill="#000">100</text>
<text transform="translate(18.72,323.01) scale(0.5523,0.4366) skewX(0.05)" font-size="20.0" font-weight="bold" fill="#000">200</text>
<text transform="translate(18.83,292.21) scale(0.5489,0.4366) skewX(0.05)" font-size="20.0" font-weight="bold" fill="#000">300</text>
<text transform="translate(18.94,261.41) scale(0.5455,0.4366) skewX(0.05)" font-size="20.0" font-weight="bold" fill="#000">400</text>
<text transform="translate(52.17,397.05) scale(0.5683,0.4493) skewX(0.05)" font-size="20.0" font-weight="bold" fill="#000">Lung</text>
<text transform="translate(98.08,396.97) scale(0.5623,0.4189) skewX(0.05)" font-size="20.0" font-weight="bold" fill="#000">Liver</text>
<text transform="translate(139.13,397.05) scale(0.5582,0.4247) skewX(0.05)" font-size="20.0" font-weight="bold" fill="#000">Spleen</text>
<text transform="translate(182.69,397.05) scale(0.5537,0.4247) skewX(0.05)" font-size="20.0" font-weight="bold" fill="#000">Kidney</text>
<text transform="translate(234.78,396.97) scale(0.5564,0.4189) skewX(0.05)" font-size="20.0" font-weight="bold" fill="#000">Brain</text>
<text transform="translate(135.53,330.69) scale(0.4295,0.3182) skewX(0.05)" font-size="20.0" font-weight="normal" fill="#333">ns</text>
<text transform="translate(118.73,337.29) scale(0.4295,0.3182) skewX(0.05)" font-size="20.0" font-weight="normal" fill="#333">ns</text>
<text transform="translate(245.63,371.89) scale(0.4295,0.3182) skewX(0.05)" font-size="20.0" font-weight="normal" fill="#333">ns</text>
<text transform="translate(336.58,385.26) scale(0.5068,0.4296) skewX(0.05)" font-size="20.0" font-weight="bold" fill="#000">0</text>
<text transform="translate(325.34,355.54) scale(0.5056,0.4296) skewX(0.05)" font-size="20.0" font-weight="bold" fill="#000">100</text>
<text transform="translate(325.65,325.81) scale(0.4962,0.4296) skewX(0.05)" font-size="20.0" font-weight="bold" fill="#000">200</text>
<text transform="translate(325.75,296.09) scale(0.4931,0.4296) skewX(0.05)" font-size="20.0" font-weight="bold" fill="#000">300</text>
<text transform="translate(325.85,266.36) scale(0.4900,0.4296) skewX(0.05)" font-size="20.0" font-weight="bold" fill="#000">400</text>
<text transform="translate(356.14,396.95) scale(0.5081,0.4130) skewX(0.05)" font-size="20.0" font-weight="bold" fill="#000">Lung</text>
<text transform="translate(397.24,396.87) scale(0.5106,0.3851) skewX(0.05)" font-size="20.0" font-weight="bold" fill="#000">Liver</text>
<text transform="translate(434.15,396.95) scale(0.5066,0.3904) skewX(0.05)" font-size="20.0" font-weight="bold" fill="#000">Spleen</text>
<text transform="translate(473.65,396.95) scale(0.5003,0.3904) skewX(0.05)" font-size="20.0" font-weight="bold" fill="#000">Kidney</text>
<text transform="translate(520.23,396.87) scale(0.5153,0.3851) skewX(0.05)" font-size="20.0" font-weight="bold" fill="#000">Brain</text>
<text transform="translate(434.53,336.79) scale(0.4295,0.3182) skewX(0.05)" font-size="20.0" font-weight="normal" fill="#333">ns</text>
<text transform="translate(531.83,372.69) scale(0.4295,0.3182) skewX(0.05)" font-size="20.0" font-weight="normal" fill="#333">ns</text>
<text transform="translate(136.11,31.15) scale(0.6988,0.5411) skewX(0.05)" font-size="20.0" font-weight="bold" fill="#000">1h IV</text>
<text transform="translate(426.57,27.64) scale(0.6264,0.5676) skewX(0.05)" font-size="20.0" font-weight="bold" fill="#000">6h IV</text>
<text transform="translate(135.99,241.75) scale(0.7208,0.5753) skewX(0.05)" font-size="20.0" font-weight="bold" fill="#000">inh-1h</text>
<text transform="translate(431.26,246.85) scale(0.6618,0.5203) skewX(0.05)" font-size="20.0" font-weight="bold" fill="#000">inh-6h</text>
<text transform="translate(27.02,12.45) scale(0.5662,0.6357) skewX(0.05)" font-size="20.0" font-weight="bold" fill="#000" stroke="#000" stroke-width="0.9" stroke-linejoin="round">A</text>
<text transform="translate(341.13,12.45) scale(0.5161,0.6304) skewX(0.05)" font-size="20.0" font-weight="bold" fill="#000" stroke="#000" stroke-width="0.9" stroke-linejoin="round">B</text>
<text transform="translate(26.94,232.42) scale(0.5076,0.6549) skewX(0.05)" font-size="20.0" font-weight="bold" fill="#000" stroke="#000" stroke-width="0.9" stroke-linejoin="round">C</text>
<text transform="translate(340.45,232.45) scale(0.5873,0.6522) skewX(0.05)" font-size="20.0" font-weight="bold" fill="#000" stroke="#000" stroke-width="0.9" stroke-linejoin="round">D</text>
<text transform="translate(395.42,205.65) scale(0.5330,0.4863) skewX(0.05)" font-size="20.0" font-weight="bold" fill="#000">Organ distribution</text>
<text transform="translate(103.25,412.85) scale(0.6270,0.4658) skewX(0.05)" font-size="20.0" font-weight="bold" fill="#000">Organ distribution</text>
<text transform="translate(401.80,412.35) scale(0.5661,0.4658) skewX(0.05)" font-size="20.0" font-weight="bold" fill="#000">Organ distribution</text>
<text transform="translate(11.04,209.06) rotate(-90) scale(0.5059,0.5745) skewX(0.05)" font-size="20.0" font-weight="bold" fill="#000">Mean fluorescence intenisty (gray values)</text>
<text transform="translate(316.33,214.09) rotate(-90) scale(0.5292,0.5532) skewX(0.05)" font-size="20.0" font-weight="bold" fill="#000">Mean fluorescence intenisty (gray values)</text>
<text transform="translate(10.61,421.26) rotate(-90) scale(0.5099,0.5798) skewX(0.05)" font-size="20.0" font-weight="bold" fill="#000">Mean fluorescence intenisty (gray values)</text>
<text transform="translate(317.84,420.24) rotate(-90) scale(0.4925,0.5266) skewX(0.05)" font-size="20.0" font-weight="bold" fill="#000">Mean fluorescence intenisty (gray values)</text>
<text transform="translate(588.92,57.75) scale(0.5287,0.5068) skewX(0.05)" font-size="20.0" font-weight="normal" fill="#000">Coumarin-6 solution</text>
<text transform="translate(588.93,74.35) scale(0.5218,0.5069) skewX(0.05)" font-size="20.0" font-weight="normal" fill="#000">Cou-SLNs</text>
<text transform="translate(588.60,91.55) scale(0.5300,0.5068) skewX(0.05)" font-size="20.0" font-weight="normal" fill="#000">Lf-Cou-SLNs</text>
<text transform="translate(606.50,274.45) scale(0.5547,0.4865) skewX(0.05)" font-size="20.0" font-weight="normal" fill="#000">Coumarin-6 MP</text>
<text transform="translate(606.50,290.25) scale(0.5531,0.4859) skewX(0.05)" font-size="20.0" font-weight="normal" fill="#000">Cou-MP</text>
<text transform="translate(606.16,306.15) scale(0.5555,0.4797) skewX(0.05)" font-size="20.0" font-weight="normal" fill="#000">Lf-Cou-MP</text>
</g>
</svg>
</body></html>
